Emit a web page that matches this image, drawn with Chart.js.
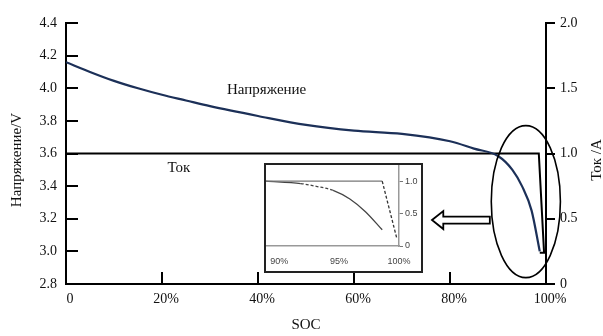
<!DOCTYPE html>
<html>
<head>
<meta charset="utf-8">
<script src="https://cdn.jsdelivr.net/npm/chart.js@4.4.0/dist/chart.umd.min.js"></script>
<style>
  body { margin: 0; background: #fff; }
  #wrap { position: relative; width: 603px; height: 336px; }
  #inset { position: absolute; left: 264px; top: 163px; width: 155px; height: 106px; border: 2px solid #222; background: #fff; }
</style>
</head>
<body>
<div id="wrap">
  <canvas id="main" width="603" height="336"></canvas>
  <div id="inset"><canvas id="zoom" width="155" height="106"></canvas></div>
</div>
<script>
// main chart: voltage vs SOC
const socPoints = [0, 5, 10, 15, 20, 25, 30, 40, 50, 60, 70, 80, 85, 90, 93, 95, 97, 98.7];
const voltage = [4.16, 4.10, 4.045, 4.00, 3.96, 3.925, 3.89, 3.83, 3.775, 3.74, 3.72, 3.675, 3.63, 3.585, 3.50, 3.40, 3.25, 3.0];
// current (right axis)
const currentSoc = [0, 98.5, 99.6, 98.7];
const current = [1.0, 1.0, 0.24, 0.24];

const xTicks = [0, 20, 40, 60, 80, 100];
const leftTicks = [2.8, 3.0, 3.2, 3.4, 3.6, 3.8, 4.0, 4.2, 4.4];
const rightTicks = [0, 0.5, 1.0, 1.5, 2.0];

// inset: zoom on 89..100 %
const insetVoltSoc = [88.9, 91.8, 93.1, 94.5, 95.9, 97.2, 98.6];
const insetVolt = [1.0, 0.964, 0.92, 0.86, 0.726, 0.53, 0.25];
const insetCurSoc = [88.9, 98.6, 99.8];
const insetCur = [1.0, 1.0, 0.13];
const insetXTicks = [90, 95, 100];
const insetYTicks = [0, 0.5, 1.0];

const serif = 'Liberation Serif';
const toXY = (xs, ys) => xs.map((x, i) => ({x: x, y: ys[i]}));

const decor = {
  id: 'decor',
  afterDraw(chart) {
    const {ctx, chartArea: a, scales: {x, y, y1}} = chart;
    ctx.save();
    ctx.strokeStyle = '#000';
    ctx.lineWidth = 2;
    ctx.beginPath();
    leftTicks.forEach(v => {
      const py = Math.round(y.getPixelForValue(v));
      ctx.moveTo(a.left, py); ctx.lineTo(a.left + 12, py);
    });
    xTicks.forEach(v => {
      const px = Math.round(x.getPixelForValue(v));
      ctx.moveTo(px, a.bottom); ctx.lineTo(px, a.bottom - 12);
    });
    rightTicks.forEach(v => {
      const py = Math.round(y1.getPixelForValue(v));
      ctx.moveTo(a.right, py); ctx.lineTo(a.right + 9, py);
    });
    ctx.stroke();

    // ellipse around the end of discharge
    const cx = x.getPixelForValue(95.8), cy = y.getPixelForValue(3.305);
    const rx = x.getPixelForValue(103) - cx, ry = y.getPixelForValue(3.305 - 0.466) - cy;
    ctx.lineWidth = 1.6;
    ctx.beginPath();
    ctx.ellipse(cx, cy, rx, ry, 0, 0, Math.PI * 2);
    ctx.stroke();

    // hollow arrow pointing to the inset
    const tip = x.getPixelForValue(76.25), base = x.getPixelForValue(78.6), tail = x.getPixelForValue(88.3);
    const ay = y.getPixelForValue(3.192);
    ctx.lineWidth = 1.8;
    ctx.fillStyle = '#fff';
    ctx.beginPath();
    ctx.moveTo(tip, ay);
    ctx.lineTo(base, ay - 9);
    ctx.lineTo(base, ay - 3.5);
    ctx.lineTo(tail, ay - 3.5);
    ctx.lineTo(tail, ay + 3.5);
    ctx.lineTo(base, ay + 3.5);
    ctx.lineTo(base, ay + 9);
    ctx.closePath();
    ctx.fill();
    ctx.stroke();

    // texts
    ctx.fillStyle = '#111';
    ctx.font = '15px "' + serif + '"';
    ctx.textAlign = 'center';
    ctx.textBaseline = 'middle';
    ctx.fillText('Напряжение', x.getPixelForValue(41.8), y.getPixelForValue(3.99));
    ctx.fillText('Ток', x.getPixelForValue(23.5), y.getPixelForValue(3.51));
    ctx.fillText('SOC', (a.left + a.right) / 2, 325);

    ctx.save();
    ctx.translate(17, 160);
    ctx.rotate(-Math.PI / 2);
    ctx.fillText('Напряжение/V', 0, 0);
    ctx.restore();
    ctx.save();
    ctx.translate(597, 160);
    ctx.rotate(-Math.PI / 2);
    ctx.fillText('Ток /A', 0, 0);
    ctx.restore();
    ctx.restore();
  }
};

new Chart(document.getElementById('main'), {
  type: 'line',
  data: {
    datasets: [
      {
        label: 'Напряжение',
        data: toXY(socPoints, voltage),
        yAxisID: 'y',
        borderColor: '#1c3058',
        borderWidth: 2.2,
        pointRadius: 0,
        cubicInterpolationMode: 'monotone'
      },
      {
        label: 'Ток',
        data: toXY(currentSoc, current),
        yAxisID: 'y1',
        borderColor: '#000',
        borderWidth: 2,
        pointRadius: 0,
        tension: 0
      }
    ]
  },
  options: {
    responsive: false,
    animation: false,
    layout: { padding: { top: 23, left: 0, right: 0, bottom: 0 } },
    plugins: { legend: { display: false }, tooltip: { enabled: false } },
    scales: {
      x: {
        type: 'linear', min: 0, max: 100,
        afterFit: s => { s.height = 52; },
        grid: { drawOnChartArea: false, drawTicks: false },
        border: { color: '#000', width: 2 },
        ticks: {
          stepSize: 20, padding: 7, color: '#111', labelOffset: 4,
          font: { family: serif, size: 14 },
          callback: v => v === 0 ? '0' : v + '%'
        }
      },
      y: {
        position: 'left', min: 2.8, max: 4.4,
        afterFit: s => { s.width = 66; },
        grid: { drawOnChartArea: false, drawTicks: false },
        border: { color: '#000', width: 2 },
        ticks: {
          stepSize: 0.2, padding: 9, color: '#111',
          font: { family: serif, size: 14 },
          callback: v => v.toFixed(1)
        }
      },
      y1: {
        position: 'right', min: 0, max: 2.0,
        afterFit: s => { s.width = 57; },
        grid: { drawOnChartArea: false, drawTicks: false },
        border: { color: '#000', width: 2 },
        ticks: {
          stepSize: 0.5, padding: 14, color: '#111',
          font: { family: serif, size: 14 },
          callback: v => v === 0 ? '0' : v.toFixed(1)
        }
      }
    }
  },
  plugins: [decor]
});

new Chart(document.getElementById('zoom'), {
  type: 'line',
  data: {
    datasets: [
      {
        data: toXY(insetCurSoc, insetCur),
        borderColor: '#777',
        borderWidth: 1.3,
        pointRadius: 0,
        segment: { borderDash: c => c.p0DataIndex === 1 ? [3, 2] : undefined, borderColor: c => c.p0DataIndex === 1 ? '#333' : undefined }
      },
      {
        data: toXY(insetVoltSoc, insetVolt),
        borderColor: '#444',
        borderWidth: 1.3,
        pointRadius: 0,
        cubicInterpolationMode: 'monotone',
        segment: { borderDash: c => (c.p0DataIndex >= 1 && c.p0DataIndex <= 2) ? [3, 2] : undefined }
      }
    ]
  },
  options: {
    responsive: false,
    animation: false,
    layout: { padding: 0 },
    plugins: { legend: { display: false }, tooltip: { enabled: false } },
    scales: {
      x: {
        type: 'linear', min: 88.9, max: 100,
        afterFit: s => { s.height = 25; s.paddingLeft = 0; s.paddingRight = 0; },
        afterBuildTicks: s => { s.ticks = insetXTicks.map(v => ({value: v})); },
        grid: { drawOnChartArea: false, drawTicks: false },
        border: { color: '#999', width: 1.5 },
        ticks: {
          padding: 10, color: '#444', maxRotation: 0, autoSkip: false,
          font: { family: 'Liberation Sans', size: 9 },
          callback: v => v + '%'
        }
      },
      y: {
        position: 'right', min: 0, max: 1.25,
        afterFit: s => { s.width = 22; s.paddingTop = 0; s.paddingBottom = 0; },
        afterBuildTicks: s => { s.ticks = insetYTicks.map(v => ({value: v})); },
        grid: { drawOnChartArea: false, tickLength: 4, color: '#777' },
        border: { color: '#999', width: 1.5 },
        ticks: {
          padding: 2, color: '#444',
          font: { family: 'Liberation Sans', size: 9 },
          callback: v => v === 0 ? '0' : v.toFixed(1)
        }
      }
    }
  }
});
</script>
</body>
</html>
